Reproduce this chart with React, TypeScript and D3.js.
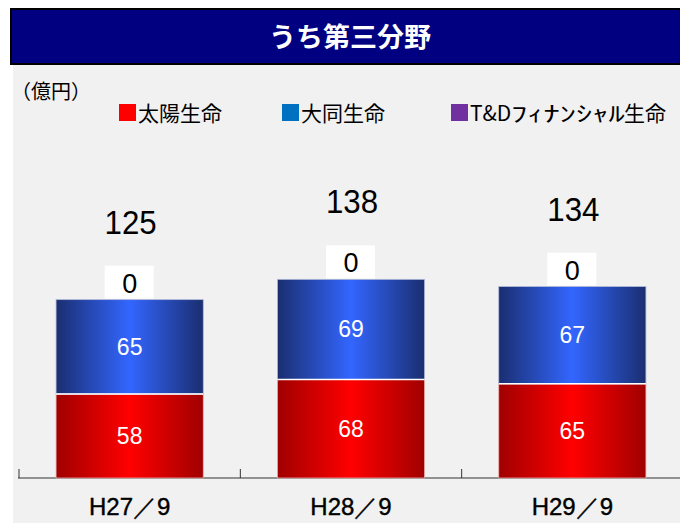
import React from "react";
import * as d3 from "d3";

const categories = ["H27／9", "H28／9", "H29／9"];
const taiyo = [58, 68, 65];
const daido = [65, 69, 67];
const td = [0, 0, 0];
const totals = [125, 138, 134];
const legendNames = ["太陽生命", "大同生命", "T&Dﾌｨﾅﾝｼｬﾙ生命"];
const legendColors = ["#ff0000", "#0070c0", "#7030a0"];

const JP = "'Noto Sans CJK JP', 'Noto Sans', sans-serif";
const NUM = "'Liberation Sans', Arial, sans-serif";

export default function App() {
  const W = 680, H = 523;
  const baseY = 478;
  const x = d3.scaleBand<string>().domain(categories).range([19, 683]).paddingInner(0).paddingOuter(0);
  const y = d3.scaleLinear().domain([0, 200]).range([baseY, baseY - 290]);
  const barW = x.bandwidth() * 0.665;
  const legendX = [119, 282, 451];

  const renderLegendText = (n: string, i: number) => {
    const tx = legendX[i] + 19;
    const m = n.match(/^([A-Za-z&]+)([\uFF61-\uFF9F]+)(.*)$/);
    if (!m) {
      return <text x={tx} y={121} fontFamily={JP} fontSize={21} fill="#000">{n}</text>;
    }
    const kx = tx + 41;
    return (
      <g>
        <text x={tx} y={121} fontFamily={JP} fontSize={21} fill="#000">{m[1]}</text>
        <text x={0} y={121} fontFamily={JP} fontSize={21} fill="#000"
          transform={`translate(${kx},0) scale(1.55,1)`}>{m[2]}</text>
        <text x={kx + 113} y={121} fontFamily={JP} fontSize={21} fill="#000">{m[3]}</text>
      </g>
    );
  };

  return (
    <svg width={W} height={H} style={{ position: "absolute", left: 0, top: 0, display: "block" }}>
      <defs>
        <linearGradient id="gRed" x1="0" x2="1" y1="0" y2="0">
          <stop offset="0" stopColor="#a00000" />
          <stop offset="0.5" stopColor="#ff0000" />
          <stop offset="1" stopColor="#a00000" />
        </linearGradient>
        <linearGradient id="gBlue" x1="0" x2="1" y1="0" y2="0">
          <stop offset="0" stopColor="#1a2e70" />
          <stop offset="0.5" stopColor="#3366ff" />
          <stop offset="1" stopColor="#1a2e70" />
        </linearGradient>
      </defs>
      <rect x={0} y={0} width={W} height={H} fill="#ffffff" />
      <rect x={13} y={65} width={W - 13} height={H - 65} fill="#f1f1f1" />
      <rect x={11} y={9} width={W} height={55} fill="#000080" stroke="#000000" strokeWidth={2} />
      <text x={350} y={47} textAnchor="middle" fill="#ffffff" fontFamily={JP} fontWeight="bold" fontSize={27}>
        うち第三分野
      </text>
      <text x={11} y={99} fontFamily={JP} fontSize={20} fill="#000">（億円）</text>
      {legendNames.map((n, i) => (
        <g key={n}>
          <rect x={legendX[i]} y={104} width={17} height={17} fill={legendColors[i]} />
          {renderLegendText(n, i)}
        </g>
      ))}
      {/* axis */}
      <line x1={18} x2={W} y1={baseY} y2={baseY} stroke="#333" strokeWidth={1.2} />
      {[...categories.map((c) => x(c)!), 683].map((t, i) => (
        <line key={i} x1={t} x2={t} y1={baseY} y2={baseY - 9} stroke="#333" strokeWidth={1} />
      ))}
      {categories.map((c, i) => {
        const cx = x(c)! + x.bandwidth() / 2;
        const bx = cx - barW / 2;
        const yR = y(taiyo[i]);
        const yB = y(taiyo[i] + daido[i]);
        const yT = y(taiyo[i] + daido[i] + td[i]);
        return (
          <g key={c}>
            <rect x={bx} y={yR} width={barW} height={baseY - yR} fill="url(#gRed)" stroke="#e8b0b0" strokeWidth={0.8} />
            <rect x={bx} y={yB} width={barW} height={yR - yB} fill="url(#gBlue)" stroke="#b0b8d8" strokeWidth={0.8} />
            <line x1={bx} x2={bx + barW} y1={yR} y2={yR} stroke="#ffffff" strokeWidth={1.5} />
            <text x={cx} y={(yR + baseY) / 2 + 8} textAnchor="middle" fill="#fff" fontFamily={NUM} fontSize={23}>{taiyo[i]}</text>
            <text x={cx} y={(yB + yR) / 2 + 8} textAnchor="middle" fill="#fff" fontFamily={NUM} fontSize={23}>{daido[i]}</text>
            <rect x={cx - 25} y={yT - 34} width={49} height={33} fill="#ffffff" />
            <text x={cx} y={yT - 7} textAnchor="middle" fill="#000" fontFamily={NUM} fontSize={27}>{td[i]}</text>
            <text x={cx + 1} y={yT - 66} textAnchor="middle" fill="#000" fontFamily={NUM} fontSize={34}
              transform={`translate(${cx + 1},0) scale(0.92,1) translate(${-(cx + 1)},0)`}>{totals[i]}</text>
            <text x={cx} y={515} textAnchor="middle" fill="#000" fontFamily={NUM} fontSize={24}
              stroke="#000" strokeWidth={0.4}>{c}</text>
          </g>
        );
      })}
    </svg>
  );
}
